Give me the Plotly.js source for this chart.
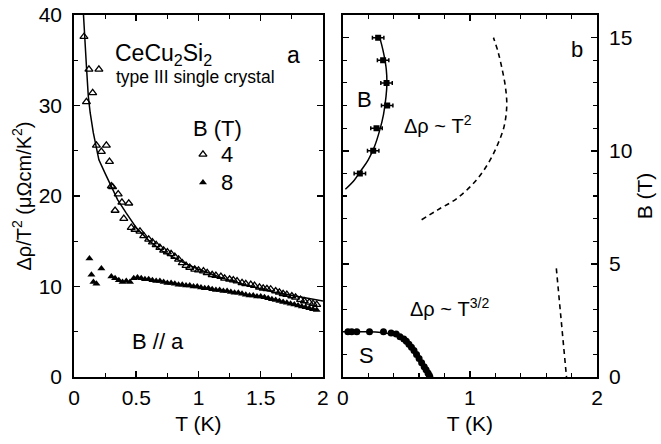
<!DOCTYPE html>
<html>
<head>
<meta charset="utf-8">
<script src="https://cdn.plot.ly/plotly-3.0.1.min.js"></script>
<style>html,body{margin:0;padding:0;background:#fff;}#chart{width:661px;height:444px;}</style>
</head>
<body>
<div id="chart"></div>
<script>
// ---- Panel a: Δρ/T² vs T ----
var T4 = [0.08,0.10,0.12,0.15,0.18,0.20,0.22,0.26,0.285,0.30,0.31,0.33,0.355,0.385,0.40,0.44,0.46,0.49,0.53,0.56,0.60,0.63,0.66,0.69,0.72,0.75,0.78,0.81,0.84,0.87,0.90,0.93,0.97,1.00,1.04,1.07,1.11,1.14,1.18,1.21,1.25,1.28,1.31,1.35,1.38,1.42,1.45,1.49,1.52,1.55,1.58,1.62,1.65,1.68,1.71,1.75,1.78,1.82,1.85,1.89,1.92,1.95];
var V4 = [37.6,30.4,34,31.4,25.6,34,24.9,25.6,23.8,21.1,21.0,18.4,20.2,19.3,17.5,19.2,16.5,16.3,16.1,15.6,15.2,14.9,14.6,14.3,14.0,13.8,13.6,13.3,13.0,12.6,12.3,12.1,11.9,11.8,11.7,11.5,11.3,11.2,11.1,10.9,10.8,10.7,10.6,10.4,10.3,10.2,10.1,9.9,9.8,9.75,9.7,9.5,9.35,9.2,9.1,8.95,8.8,8.55,8.4,8.25,8.1,8.0];
var T8 = [0.124,0.14,0.156,0.18,0.22,0.30,0.33,0.36,0.39,0.42,0.45,0.48,0.51,0.54,0.57,0.60,0.63,0.66,0.69,0.72,0.75,0.78,0.81,0.84,0.87,0.90,0.93,0.96,0.99,1.02,1.05,1.08,1.11,1.14,1.17,1.20,1.23,1.26,1.29,1.32,1.35,1.38,1.41,1.44,1.47,1.50,1.53,1.56,1.59,1.62,1.65,1.68,1.71,1.74,1.77,1.80,1.83,1.86,1.89,1.92,1.95];
var V8 = [13.1,11.3,10.5,10.3,12.0,11.1,10.9,10.7,10.5,10.6,10.5,10.9,11.0,10.9,10.8,10.8,10.7,10.6,10.6,10.5,10.4,10.4,10.3,10.2,10.2,10.1,10.1,10.0,10.0,9.9,9.8,9.8,9.7,9.6,9.6,9.5,9.5,9.4,9.3,9.3,9.2,9.1,9.0,9.0,8.9,8.9,8.8,8.7,8.6,8.5,8.4,8.3,8.2,8.1,8.0,7.9,7.8,7.7,7.6,7.5,7.4];
var fitT = [0.075,0.085,0.1,0.115,0.13,0.155,0.2,0.25,0.3,0.35,0.42,0.5,0.6,0.7,0.8,0.9,1.0,1.2,1.4,1.6,1.8,2.0];
var fitV = [40.3,37.5,34.3,31.0,29.2,27.0,24.0,22.5,21.0,19.6,18.1,16.5,15.1,14.0,13.2,12.5,11.9,10.9,10.1,9.4,8.9,8.4];
var xTicksA = [0,0.5,1,1.5,2];
var xTickTextA = ["0","0.5","1","1.5","2"];
var yTicksA = [0,10,20,30,40];

// ---- Panel b: B vs T phase diagram ----
var bT = [0.278,0.317,0.344,0.349,0.265,0.239,0.134];
var bB = [15,14,13,12,11,10,9];
var bErr = [0.045,0.045,0.045,0.045,0.045,0.045,0.045];
var bLineT = [0.02,0.09,0.14,0.2,0.25,0.29,0.32,0.34,0.347,0.342,0.325,0.305,0.285];
var bLineB = [8.3,8.7,9.1,9.6,10.2,10.9,11.6,12.4,13.0,13.6,14.2,14.7,15.1];
var sT = [0.04,0.07,0.11,0.21,0.32,0.38,0.42,0.45,0.48,0.50,0.52,0.54,0.56,0.58,0.60,0.62,0.64,0.655,0.67,0.68,0.685];
var sB = [2.0,2.0,2.0,2.0,2.0,1.95,1.9,1.78,1.68,1.58,1.45,1.32,1.17,1.0,0.82,0.63,0.45,0.32,0.18,0.08,0.0];
var sLineT = [0,0.1,0.2,0.3,0.4,0.45,0.5,0.55,0.6,0.64,0.67,0.685];
var sLineB = [2.0,2.0,2.0,1.97,1.88,1.76,1.56,1.22,0.82,0.45,0.17,0.0];
var dashUpT = [0.62,0.75,0.9,1.05,1.15,1.22,1.27,1.29,1.28,1.25,1.22,1.185];
var dashUpB = [6.95,7.4,7.9,8.7,9.5,10.3,11.1,12.0,12.8,13.7,14.4,15.0];
var dashLoT = [1.68,1.72,1.76];
var dashLoB = [4.8,2.4,0.0];
var xTicksB = [0,1,2];
var yTicksB = [0,5,10,15];

var FONT = "Liberation Sans, Arial, Helvetica, sans-serif";
var K = "#000";

var traces = [
  {x: fitT, y: fitV, xaxis: "x", yaxis: "y", mode: "lines", line: {color: K, width: 1.5}, hoverinfo: "skip"},
  {x: T4, y: V4, xaxis: "x", yaxis: "y", mode: "markers", marker: {symbol: "triangle-up-open", size: 7, color: K, line: {width: 1.3, color: K}}},
  {x: T8, y: V8, xaxis: "x", yaxis: "y", mode: "markers", marker: {symbol: "triangle-up", size: 7, color: K}},
  {x: [1.036], y: [24.6], xaxis: "x", yaxis: "y", mode: "markers", marker: {symbol: "triangle-up-open", size: 7, color: K, line: {width: 1.3, color: K}}},
  {x: [1.036], y: [21.5], xaxis: "x", yaxis: "y", mode: "markers", marker: {symbol: "triangle-up", size: 7, color: K}},
  {x: bLineT, y: bLineB, xaxis: "x2", yaxis: "y2", mode: "lines", line: {color: K, width: 1.5, shape: "spline"}},
  {x: bT, y: bB, xaxis: "x2", yaxis: "y2", mode: "markers", marker: {symbol: "square", size: 6, color: K},
   error_x: {type: "data", array: bErr, visible: true, color: K, thickness: 1.5, width: 2}},
  {x: sLineT, y: sLineB, xaxis: "x2", yaxis: "y2", mode: "lines", line: {color: K, width: 1.5, shape: "spline"}},
  {x: sT, y: sB, xaxis: "x2", yaxis: "y2", mode: "markers", marker: {symbol: "circle", size: 7, color: K}},
  {x: dashUpT, y: dashUpB, xaxis: "x2", yaxis: "y2", mode: "lines", line: {color: K, width: 1.6, dash: "5px,4px", shape: "spline"}},
  {x: dashLoT, y: dashLoB, xaxis: "x2", yaxis: "y2", mode: "lines", line: {color: K, width: 1.6, dash: "5px,4px"}}
];

function axisCommon(extra) {
  var a = {
    showgrid: false, zeroline: false, showline: true, linecolor: K, linewidth: 1.8,
    mirror: "ticks", ticks: "inside", ticklen: 6, tickwidth: 1.5, tickcolor: K,
    tickfont: {family: FONT, size: 21, color: K}, automargin: false, fixedrange: true
  };
  for (var k in extra) a[k] = extra[k];
  return a;
}

var layout = {
  width: 661, height: 444,
  margin: {l: 74, r: 64, t: 15, b: 67},
  paper_bgcolor: "#fff", plot_bgcolor: "#fff",
  showlegend: false,
  font: {family: FONT, size: 21, color: K},
  xaxis: axisCommon({domain: [0, 0.476], range: [0, 2], anchor: "y", ticklabelstandoff: 1,
    tickmode: "array", tickvals: xTicksA, ticktext: xTickTextA,
    minor: {dtick: 0.25, ticks: "inside", ticklen: 4, tickcolor: K, tickwidth: 1.2, showgrid: false},
    title: {text: "T (K)", font: {family: FONT, size: 21, color: K}, standoff: 8}}),
  yaxis: axisCommon({domain: [0, 1], range: [0, 40], anchor: "x", ticklabelstandoff: 6,
    tickmode: "array", tickvals: yTicksA,
    minor: {dtick: 5, ticks: "inside", ticklen: 4, tickcolor: K, tickwidth: 1.2, showgrid: false},
    title: {text: "Δρ/T<sup>2</sup> (μΩcm/K<sup>2</sup>)", font: {family: FONT, size: 20, color: K}, standoff: 2}}),
  xaxis2: axisCommon({domain: [0.514, 1], range: [0, 2], anchor: "y2", ticklabelstandoff: 1,
    tickmode: "array", tickvals: xTicksB,
    minor: {dtick: 0.2, ticks: "inside", ticklen: 4, tickcolor: K, tickwidth: 1.2, showgrid: false},
    title: {text: "T (K)", font: {family: FONT, size: 21, color: K}, standoff: 8}}),
  yaxis2: axisCommon({domain: [0, 1], range: [0, 16], anchor: "x2", side: "right", ticklabelstandoff: 6,
    tickmode: "array", tickvals: yTicksB,
    minor: {dtick: 1, ticks: "inside", ticklen: 4, tickcolor: K, tickwidth: 1.2, showgrid: false},
    title: {text: "B (T)", font: {family: FONT, size: 21, color: K}, standoff: 6}}),
  annotations: [
    {xref: "x", yref: "y", x: 0.715, y: 35.6, text: "CeCu<sub>2</sub>Si<sub>2</sub>", showarrow: false, font: {family: FONT, size: 23, color: K}},
    {xref: "x", yref: "y", x: 1.76, y: 35.6, text: "a", showarrow: false, font: {family: FONT, size: 23, color: K}},
    {xref: "x", yref: "y", x: 0.98, y: 33.2, text: "type III single crystal", showarrow: false, font: {family: FONT, size: 17.5, color: K}},
    {xref: "x", yref: "y", x: 1.15, y: 27.5, text: "B (T)", showarrow: false, font: {family: FONT, size: 22, color: K}},
    {xref: "x", yref: "y", x: 1.23, y: 24.6, text: "4", showarrow: false, font: {family: FONT, size: 22, color: K}},
    {xref: "x", yref: "y", x: 1.23, y: 21.5, text: "8", showarrow: false, font: {family: FONT, size: 22, color: K}},
    {xref: "x", yref: "y", x: 0.675, y: 3.9, text: "B // a", showarrow: false, font: {family: FONT, size: 22, color: K}},
    {xref: "x2", yref: "y2", x: 0.173, y: 12.26, text: "B", showarrow: false, font: {family: FONT, size: 22, color: K}},
    {xref: "x2", yref: "y2", x: 0.75, y: 11.15, text: "Δρ ~ T<sup>2</sup>", showarrow: false, font: {family: FONT, size: 20, color: K}},
    {xref: "x2", yref: "y2", x: 1.84, y: 14.47, text: "b", showarrow: false, font: {family: FONT, size: 22, color: K}},
    {xref: "x2", yref: "y2", x: 0.84, y: 3.05, text: "Δρ ~ T<sup>3/2</sup>", showarrow: false, font: {family: FONT, size: 20, color: K}},
    {xref: "x2", yref: "y2", x: 0.19, y: 0.97, text: "S", showarrow: false, font: {family: FONT, size: 22, color: K}}
  ]
};

Plotly.newPlot("chart", traces, layout, {staticPlot: true, displayModeBar: false});
</script>
</body>
</html>
